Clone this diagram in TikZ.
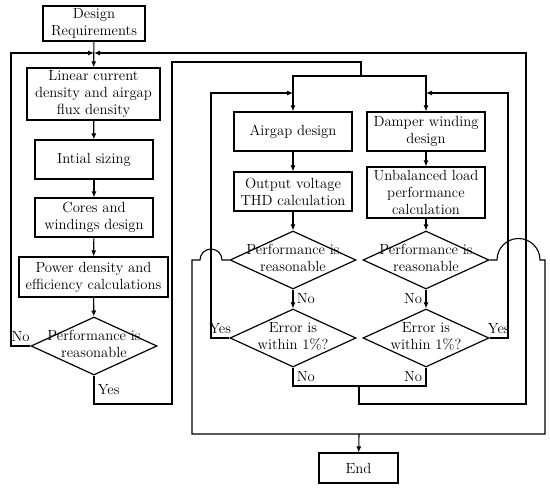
\documentclass[tikz,border=0pt]{standalone}
\usetikzlibrary{shapes.geometric, arrows.meta}
\begin{document}
\begin{tikzpicture}[x = 1pt, y = -1pt,
	every node/.style = {font = \fontsize{14.7}{17}\selectfont},
	block/.style = {draw = black, shape = rectangle, align = center,
					line width = 1.2pt, inner sep = 0pt},
	decision/.style = {draw = black, shape = diamond, aspect = 2.17,
					inner sep = 0pt, minimum width = 126pt,
					minimum height = 58pt, line width = 1.2pt},
	flow/.style = {line width = 1.1pt, -{Latex[length = 6pt, width = 5pt]}},
	wire/.style = {line width = 1.1pt}]

	\useasboundingbox (0,0) rectangle (550,491);

	% left column
	\draw (94,23.5) node[block, minimum width = 102pt,
					 minimum height = 35pt] (req) {Design\\Requirements};
	\draw (93.5,94) node[block, minimum width = 133pt,
					 minimum height = 52pt] (lin) {Linear current\\density and airgap\\flux density};
	\draw (94,159.5) node[block, minimum width = 118pt,
					 minimum height = 39pt] (init) {Intial sizing};
	\draw (94,217.5) node[block, minimum width = 118pt,
					 minimum height = 39pt] (cores) {Cores and\\windings design};
	\draw (93.5,277) node[block, minimum width = 149pt,
					 minimum height = 40pt] (power) {Power density and\\efficiency calculations};
	\draw (94,346) node[decision] (dec) {\makebox[0pt]{\begin{tabular}{@{}c@{}}Performance is\\reasonable\end{tabular}}};

	% middle column
	\draw (293,131.5) node[block, minimum width = 118pt,
					 minimum height = 39pt] (air) {Airgap design};
	\draw (293,191.5) node[block, minimum width = 118pt,
					 minimum height = 39pt] (thd) {Output voltage\\THD calculation};
	\draw (293,260) node[decision] (perfA) {\makebox[0pt]{\begin{tabular}{@{}c@{}}Performance is\\reasonable\end{tabular}}};
	\draw (293,338) node[decision] (errA) {\makebox[0pt]{\begin{tabular}{@{}c@{}}Error is\\within 1\%?\end{tabular}}};

	% right column
	\draw (426,131.5) node[block, minimum width = 118pt,
					 minimum height = 39pt] (damp) {Damper winding\\design};
	\draw (426,192.5) node[block, minimum width = 118pt,
					 minimum height = 51pt] (unbal) {Unbalanced load\\performance\\calculation};
	\draw (426,260) node[decision] (perfB) {\makebox[0pt]{\begin{tabular}{@{}c@{}}Performance is\\reasonable\end{tabular}}};
	\draw (426,338) node[decision] (errB) {\makebox[0pt]{\begin{tabular}{@{}c@{}}Error is\\within 1\%?\end{tabular}}};

	\draw (358.5,468) node[block, minimum width = 79pt,
					 minimum height = 30pt] (end) {End};

	% junctions
	\coordinate (top) at (94,53);
	\coordinate (split) at (361,76);
	\coordinate (join) at (359,386);
	\coordinate (done) at (359,434);

	% main chain
	\draw[flow] (req) -- (lin);
	\draw[flow] (lin) -- (init);
	\draw[flow] (init) -- (cores);
	\draw[flow] (cores) -- (power);
	\draw[flow] (power) -- (dec);
	\draw[flow] (dec.west) -- node[above] {No} (11,346) -- (11,53) -- (top);
	\draw[wire] (dec.south) -- node[right] {Yes} (94,404) -- (172,404)
			-- (172,62) -- (361,62) -- (split);
	\draw[flow] (split) -- (air.north |- split) -- (air);
	\draw[flow] (split) -- (damp.north |- split) -- (damp);

	\draw[flow] (air) -- (thd);
	\draw[flow] (thd) -- (perfA);
	\draw[flow] (perfA) -- node[right] {No} (errA);
	\draw[flow] (damp) -- (unbal);
	\draw[flow] (unbal) -- (perfB);
	\draw[flow] (perfB) -- node[left] {No} (errB);

	% error loops
	\draw[flow] (errA.west) -- node[above] {Yes} (211,338) -- (211,93) -- (air.north |- 0,93);
	\draw[flow] (errB.east) -- node[above] {Yes} (508,338) -- (508,93) -- (damp.north |- 0,93);
	\draw[wire] (errA.south) -- node[right] {No} (errA.south |- join) -- (errB.south |- join)
			-- node[left] {No} (errB.south);
	\draw[flow] (join) -- (359,404) -- (526,404) -- (526,53) -- (top);

	% to the end
	\draw[wire] (perfA.west) -- (222,260) arc (0:180:11pt) -- (192,260) -- (192,434)
			-- (545,434) -- (545,260) -- (540,260) arc (0:180:21.5pt) -- (perfB.east);
	\draw[flow] (done) -- (end);
\end{tikzpicture}
\end{document}
